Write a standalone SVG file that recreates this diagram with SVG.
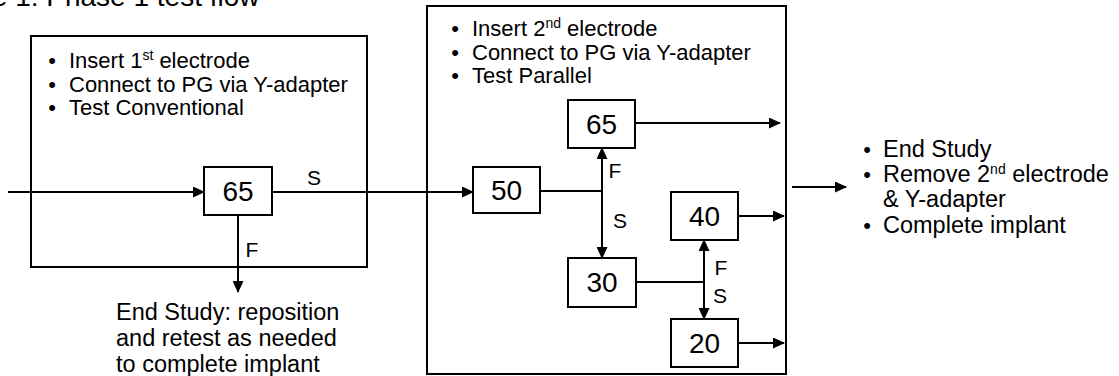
<svg xmlns="http://www.w3.org/2000/svg" width="1119" height="376" viewBox="0 0 1119 376">
<defs>
<marker id="ah" markerUnits="userSpaceOnUse" markerWidth="12" markerHeight="11" refX="11" refY="5.5" orient="auto">
<path d="M0,0 L12,5.5 L0,11 z" fill="#000"/>
</marker>
<style>
text{font-family:"Liberation Sans",Arial,sans-serif;fill:#000}
.t{font-size:22px}
.tl{font-size:23.5px}
.num{font-size:28px;text-anchor:middle}
.lbl{font-size:21px;text-anchor:middle}
.b{font-size:22px;text-anchor:middle}
.sup{font-size:14px}
.box{fill:#fff;stroke:#000;stroke-width:2}
.frame{fill:none;stroke:#000;stroke-width:2}
.c{fill:none;stroke:#000;stroke-width:2}
.ca{fill:none;stroke:#000;stroke-width:2;marker-end:url(#ah)}
</style>
</defs>
<rect width="1119" height="376" fill="#fff"/>
<text x="-72" y="6" style="font-size:28px">Figure 1: Phase 1 test flow</text>

<g id="stage1">
<rect class="frame" x="31" y="36" width="336" height="231"/>
<text class="b" x="52" y="68">•</text><text class="t" x="69" y="68">Insert 1<tspan class="sup" dy="-8">st</tspan><tspan dy="8"> electrode</tspan></text>
<text class="b" x="52" y="92">•</text><text class="t" x="69" y="92">Connect to PG via Y-adapter</text>
<text class="b" x="52" y="115">•</text><text class="t" x="69" y="115">Test Conventional</text>
</g>

<g id="stage2">
<rect class="frame" x="427" y="6" width="359" height="368"/>
<text class="b" x="455" y="36">•</text><text class="t" x="472" y="36">Insert 2<tspan class="sup" dy="-8">nd</tspan><tspan dy="8"> electrode</tspan></text>
<text class="b" x="455" y="60">•</text><text class="t" x="472" y="60">Connect to PG via Y-adapter</text>
<text class="b" x="455" y="83">•</text><text class="t" x="472" y="83">Test Parallel</text>
</g>

<g id="connectors">
<path class="ca" d="M8,192 H204"/>
<path class="ca" d="M272,192 H473"/>
<path class="ca" d="M238,215 V292"/>
<path class="c" d="M540,191 H602"/>
<path class="ca" d="M602,191 V148"/>
<path class="ca" d="M602,191 V258"/>
<path class="ca" d="M635,123 H780"/>
<path class="c" d="M636,282 H704"/>
<path class="ca" d="M704,282 V240"/>
<path class="ca" d="M704,282 V319"/>
<path class="ca" d="M738,216 H784"/>
<path class="ca" d="M738,343 H784"/>
<path class="ca" d="M792,187 H846"/>
<text class="lbl" x="314" y="185">S</text>
<text class="lbl" x="252" y="257">F</text>
<text class="lbl" x="615" y="178">F</text>
<text class="lbl" x="620" y="228">S</text>
<text class="lbl" x="721" y="275">F</text>
<text class="lbl" x="720" y="303">S</text>
</g>

<g id="n65a"><rect class="box" x="204" y="167" width="68" height="48"/><text class="num" x="238" y="201">65</text></g>
<g id="n50"><rect class="box" x="473" y="167" width="67" height="46"/><text class="num" x="506.5" y="200">50</text></g>
<g id="n65b"><rect class="box" x="568" y="100" width="67" height="48"/><text class="num" x="601.5" y="134">65</text></g>
<g id="n30"><rect class="box" x="568" y="258" width="68" height="49"/><text class="num" x="602" y="292">30</text></g>
<g id="n40"><rect class="box" x="671" y="192" width="67" height="48"/><text class="num" x="704.5" y="226">40</text></g>
<g id="n20"><rect class="box" x="671" y="319" width="67" height="48"/><text class="num" x="704.5" y="353">20</text></g>

<g id="endFail">
<text class="tl" x="116" y="320">End Study: reposition</text>
<text class="tl" x="116" y="346">and retest as needed</text>
<text class="tl" x="116" y="372">to complete implant</text>
</g>

<g id="endStudy">
<text class="b" x="867" y="157">•</text><text class="tl" x="883" y="157">End Study</text>
<text class="b" x="867" y="182">•</text><text class="tl" x="883" y="182">Remove 2<tspan class="sup" dy="-8">nd</tspan><tspan dy="8"> electrode</tspan></text>
<text class="tl" x="883" y="207">&amp; Y-adapter</text>
<text class="b" x="867" y="233">•</text><text class="tl" x="883" y="233">Complete implant</text>
</g>
</svg>
